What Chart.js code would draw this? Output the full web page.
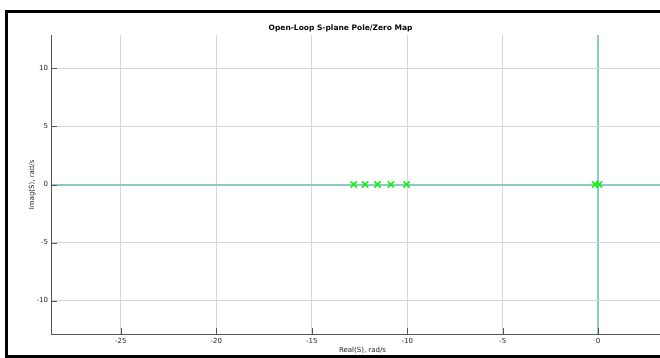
<!DOCTYPE html>
<html>
<head>
<meta charset="utf-8">
<script src="https://cdn.jsdelivr.net/npm/chart.js@4"></script>
<style>
  html, body { margin: 0; padding: 0; background: #fff; overflow: hidden; width: 660px; height: 358px; }
  #wrap { position: relative; width: 660px; height: 358px; overflow: hidden; }
  #frame { position: absolute; left: 5px; top: 10px; width: 700px; height: 342px; border: 3px solid #000; pointer-events: none; }
  canvas { position: absolute; left: 0; top: 0; }
</style>
</head>
<body>
<div id="wrap">
  <canvas id="chart-div" width="680" height="358" style="width:680px;height:358px"></canvas>
  <div id="frame"></div>
</div>
<script>
// open-loop poles (real part, imag part)
var poleReal = [-12.8, -12.2, -11.55, -10.85, -10.03, -0.15, 0.05];
var poleImag = [0, 0, 0, 0, 0, 0, 0];

var xRange = [-28.65, 3.97];
var yRange = [-12.87, 12.87];
var tickStep = 5;

var titulo = 'Open-Loop S-plane Pole/Zero Map';
var xTitulo = 'Real(S), rad/s';
var yTitulo = 'Imag(S), rad/s';

var teal = '#8fc8c8',
    gridGray = '#d6d6d6',
    axisGray = '#555555';

var puntos = [];
for (var i = 0; i < poleReal.length; i++) {
    puntos.push({ x: poleReal[i], y: poleImag[i] });
}

// small tick marks pointing into the plot, like the original figure
var inwardTicks = {
    id: 'inwardTicks',
    afterDatasetsDraw: function (chart) {
        var ctx = chart.ctx,
            area = chart.chartArea,
            sx = chart.scales.x,
            sy = chart.scales.y;
        ctx.save();
        ctx.strokeStyle = axisGray;
        ctx.lineWidth = 1;
        ctx.beginPath();
        sx.ticks.forEach(function (t) {
            var px = Math.round(sx.getPixelForValue(t.value)) + 0.5;
            ctx.moveTo(px, area.bottom);
            ctx.lineTo(px, area.bottom - 6);
        });
        sy.ticks.forEach(function (t) {
            var py = Math.round(sy.getPixelForValue(t.value)) + 0.5;
            ctx.moveTo(area.left, py);
            ctx.lineTo(area.left + 6, py);
        });
        ctx.stroke();
        ctx.restore();
    }
};

var gridColor = function (c) {
    return c.tick && c.tick.value === 0 ? teal : gridGray;
};
var gridWidth = function (c) {
    return c.tick && c.tick.value === 0 ? 2 : 1;
};

var config = {
    type: 'scatter',
    data: {
        datasets: [{
            data: puntos,
            pointStyle: 'crossRot',
            pointRadius: 4.5,
            pointHoverRadius: 4.5,
            borderColor: '#12f012',
            backgroundColor: '#12f012',
            borderWidth: 1.6
        }]
    },
    options: {
        responsive: false,
        animation: false,
        layout: { padding: { left: 6, right: 5, top: 0, bottom: 0 } },
        plugins: {
            legend: { display: false },
            tooltip: { enabled: false },
            title: {
                display: true,
                text: titulo,
                color: '#000',
                font: { family: 'DejaVu Sans', size: 7.5, weight: 'bold' },
                padding: { top: 24, bottom: 2 }
            }
        },
        scales: {
            x: {
                type: 'linear',
                min: xRange[0],
                max: xRange[1],
                afterFit: function (s) { s.height = 24; },
                border: { display: true, color: axisGray, width: 1 },
                grid: { color: gridColor, lineWidth: gridWidth, drawTicks: false },
                ticks: {
                    stepSize: tickStep,
                    includeBounds: false,
                    padding: 3,
                    color: '#222',
                    maxRotation: 0,
                    font: { family: 'DejaVu Sans', size: 7 }
                },
                title: {
                    display: true,
                    text: xTitulo,
                    color: '#222',
                    font: { family: 'DejaVu Sans', size: 7 },
                    padding: { top: 0, bottom: 4 }
                }
            },
            y: {
                type: 'linear',
                min: yRange[0],
                max: yRange[1],
                afterFit: function (s) { s.width = 45; },
                border: { display: true, color: axisGray, width: 1 },
                grid: { color: gridColor, lineWidth: gridWidth, drawTicks: false },
                ticks: {
                    stepSize: tickStep,
                    includeBounds: false,
                    padding: 3,
                    color: '#222',
                    font: { family: 'DejaVu Sans', size: 7 }
                },
                title: {
                    display: true,
                    text: yTitulo,
                    color: '#222',
                    font: { family: 'DejaVu Sans', size: 7 },
                    padding: { top: 22, bottom: 0 }
                }
            }
        }
    },
    plugins: [inwardTicks]
};

var chart = new Chart(document.getElementById('chart-div').getContext('2d'), config);
</script>
</body>
</html>
